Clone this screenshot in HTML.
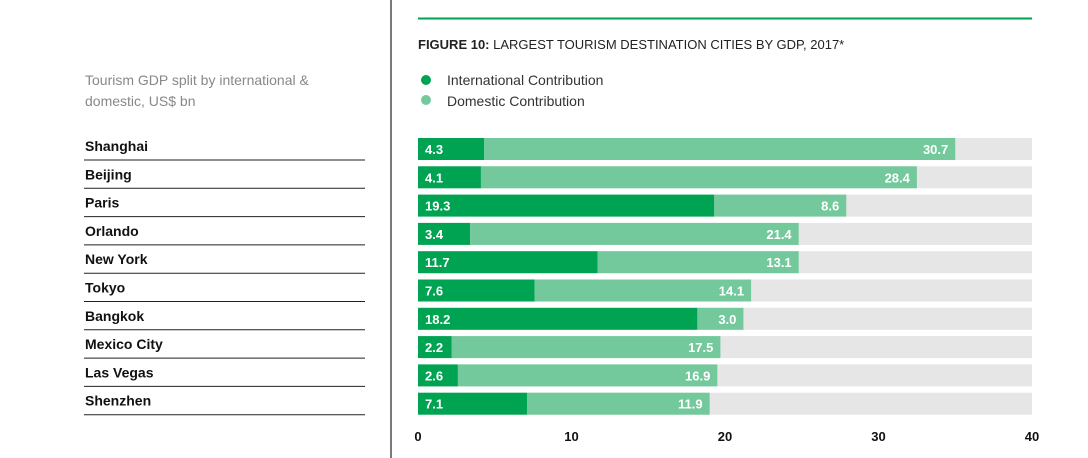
<!DOCTYPE html>
<html><head><meta charset="utf-8"><style>
body{margin:0;width:1088px;height:458px;background:#fff;overflow:hidden;font-family:"Liberation Sans",sans-serif}
svg{display:block}
</style></head><body>
<svg id="c" width="1088" height="458">
<line x1="391" y1="0" x2="391" y2="458" stroke="#222" stroke-width="1.2"/>
<line x1="418" y1="18.5" x2="1032" y2="18.5" stroke="#00a352" stroke-width="2"/>
<text x="418" y="49" font-size="13" fill="#222"><tspan font-weight="bold">FIGURE 10:</tspan> LARGEST TOURISM DESTINATION CITIES BY GDP, 2017*</text>
<circle cx="426" cy="80" r="5" fill="#00a352"/>
<text x="447" y="85" font-size="14" fill="#333">International Contribution</text>
<circle cx="426" cy="100" r="5" fill="#74c99c"/>
<text x="447" y="106" font-size="14" fill="#333">Domestic Contribution</text>
<text x="85" y="85" font-size="14" fill="#888">Tourism GDP split by international &amp;</text>
<text x="85" y="106" font-size="14" fill="#888">domestic, US$ bn</text>
<g id="rows"></g>
</svg>
<script>
const cities=["Shanghai","Beijing","Paris","Orlando","New York","Tokyo","Bangkok","Mexico City","Las Vegas","Shenzhen"];
const international=[4.3,4.1,19.3,3.4,11.7,7.6,18.2,2.2,2.6,7.1];
const domestic=[30.7,28.4,8.6,21.4,13.1,14.1,3.0,17.5,16.9,11.9];
const ticks=[0,10,20,30,40];
const NS="http://www.w3.org/2000/svg";
const g=document.getElementById('rows');
const x0=418,x1=1032,xmax=40;
const xs=v=>x0+(v/xmax)*(x1-x0);
const rowTop=i=>138+i*28.3;
const bh=22;
function mk(t,a){const e=document.createElementNS(NS,t);for(const k in a)e.setAttribute(k,a[k]);g.appendChild(e);return e;}
cities.forEach((c,i)=>{
 const y=rowTop(i);
 let e=mk('rect',{x:x0,y:y,width:x1-x0,height:bh,fill:'#e6e6e6'});
 
 
 e=mk('rect',{x:x0,y:y,width:xs(international[i])-x0,height:bh,fill:'#00a352'});
 
 
 e=mk('rect',{x:xs(international[i]),y:y,width:xs(international[i]+domestic[i])-xs(international[i]),height:bh,fill:'#74c99c'});
 
 
 e=mk('text',{x:x0+7,y:y+16,'font-size':13,'font-weight':'bold',fill:'#fff'});
 e.textContent=international[i].toFixed(1);
 
 
 e=mk('text',{x:xs(international[i]+domestic[i])-7,y:y+16,'font-size':13,'font-weight':'bold',fill:'#fff','text-anchor':'end'});
 e.textContent=domestic[i].toFixed(1);
 
 
 e=mk('text',{x:85,y:y+13,'font-size':14,'font-weight':'bold',fill:'#111'});
 e.textContent=c;
 
 
 e=mk('line',{x1:84,x2:365,y1:y+22,y2:y+22,stroke:'#222','stroke-width':1});
 
 
});
ticks.forEach(t=>{
 const e=mk('text',{x:xs(t),y:441,'font-size':13,'font-weight':'bold',fill:'#111','text-anchor':'middle'});
 e.textContent=t;
 
 
});
</script>
</body></html>
